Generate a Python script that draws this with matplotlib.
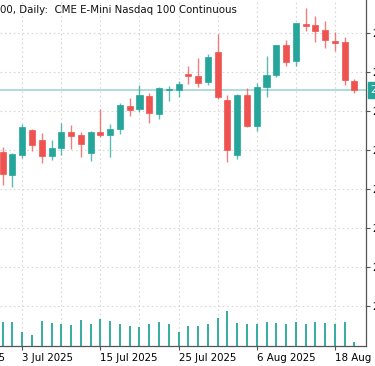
import matplotlib
matplotlib.use("Agg")
import matplotlib.pyplot as plt
from matplotlib.patches import Rectangle

# ---- data ----
opens  = [22987, 22840, 22968, 23128, 23064, 22962, 23013, 23115, 23096, 22981,
          23115, 23096, 23135, 23282, 23263, 23346, 23231, 23385, 23385, 23487,
          23474, 23436, 23628, 23321, 22968, 23353, 23154, 23404, 23481, 23673,
          23570, 23808, 23801, 23769, 23699, 23692, 23442]
highs  = [23019, 22978, 23167, 23135, 23109, 23064, 23173, 23160, 23115, 23122,
          23263, 23167, 23301, 23333, 23417, 23365, 23404, 23410, 23442, 23538,
          23590, 23615, 23744, 23353, 23356, 23397, 23429, 23603, 23676, 23705,
          23817, 23910, 23859, 23827, 23756, 23724, 23455]
lows   = [22776, 22763, 22949, 22994, 22917, 22936, 22968, 23006, 22955, 22929,
          23083, 22955, 23103, 23218, 23244, 23173, 23199, 23314, 23340, 23423,
          23404, 23417, 23327, 22923, 22942, 23150, 23122, 23340, 23468, 23538,
          23538, 23763, 23692, 23654, 23635, 23417, 23365]
closes = [22846, 22974, 23147, 23032, 22962, 23013, 23115, 23090, 23038, 23115,
          23096, 23135, 23288, 23256, 23353, 23237, 23397, 23391, 23423, 23474,
          23429, 23596, 23340, 23000, 23353, 23154, 23404, 23481, 23673, 23564,
          23814, 23795, 23763, 23705, 23686, 23449, 23385]
volumes = [480000, 480000, 280000, 220000, 500000, 460000, 440000, 420000, 520000, 440000,
           540000, 500000, 440000, 400000, 380000, 440000, 480000, 440000, 280000, 400000,
           400000, 440000, 560000, 700000, 460000, 440000, 440000, 480000, 460000, 440000,
           480000, 440000, 480000, 460000, 440000, 480000, 80000]
date_tick_pos = [2, 10, 18, 26, 34]
date_tick_labels = ["3 Jul 2025", "15 Jul 2025", "25 Jul 2025",
                    "6 Aug 2025", "18 Aug 2025"]
prev_tick_pos = -6
prev_tick_label = "23 Jun 2025"
minor_grid_pos = [-2, 6, 14, 22, 30, 38]
price_ticks = [22000, 22250, 22500, 22750, 23000, 23250, 23500, 23750]
last_price = 23385
title = "00, Daily:  CME E-Mini Nasdaq 100 Continuous"

UP = "#26a69a"
DOWN = "#ef5350"

W, H = 375, 366
fig = plt.figure(figsize=(W / 100, H / 100), dpi=100)
ax = fig.add_axes([0, (H - 346) / H, 366 / W, 346 / H])

# volume on twin axis
axv = ax.twinx()
for i, v in enumerate(volumes):
    axv.vlines(i, 0, v, color=UP, linewidth=1.3)
axv.set_ylim(0, 346 * 20000)
axv.set_axis_off()

bw = 0.62
for i in range(len(opens)):
    o, h, l, c = opens[i], highs[i], lows[i], closes[i]
    col = UP if c >= o else DOWN
    ax.vlines(i, l, h, color=col, linewidth=1.0, alpha=0.75, zorder=2)
    bottom = min(o, c)
    height = max(abs(c - o), 6)
    ax.add_patch(Rectangle((i - bw / 2, bottom), bw, height, facecolor=col,
                           edgecolor=col, linewidth=0.5, zorder=3))

ax.axhline(last_price, color="#a8dad5", linewidth=1.3, zorder=1)

ax.set_xticks(date_tick_pos)
ax.set_xticklabels(date_tick_labels, fontsize=7.4, ha="left")
ax.set_xticks(minor_grid_pos, minor=True)
ax.set_yticks(price_ticks)
ax.set_yticklabels([f"{p}" for p in price_ticks], fontsize=7.4)

ax.set_xlim(-0.276, 37.18)
ax.set_ylim(21743.6, 23961.5)

ax.yaxis.tick_right()
ax.tick_params(axis="x", which="major", length=3, width=0.8, color="#555555", pad=2)
ax.tick_params(axis="x", which="minor", length=0)
ax.tick_params(axis="y", length=3, width=0.8, color="#555555", pad=1.5)

# label of the previous (off-screen) date tick, partially visible at the left edge
ax.annotate(prev_tick_label, xy=(prev_tick_pos, 0), xycoords=("data", "axes fraction"),
            xytext=(0, -5), textcoords="offset points", va="top", ha="left",
            fontsize=7.4, annotation_clip=False)

ax.grid(True, which="both", color="#d8d8d8", linestyle=(0, (1.5, 2.5)), linewidth=0.8)
ax.set_axisbelow(True)
for s in ["left", "top"]:
    ax.spines[s].set_visible(False)
for s in ["right", "bottom"]:
    ax.spines[s].set_color("#555555")
    ax.spines[s].set_linewidth(0.9)

ax.annotate(f"{last_price}", xy=(1.0, last_price), xycoords=("axes fraction", "data"),
            xytext=(3, 0), textcoords="offset points", va="center", ha="left",
            fontsize=7.4, color="white",
            bbox=dict(boxstyle="square,pad=0.25", facecolor=UP, edgecolor=UP))

fig.text(0.0, 1 - 10 / H, title, fontsize=7.4, va="center", ha="left", color="#111111")

fig.savefig("out.png", dpi=100)
